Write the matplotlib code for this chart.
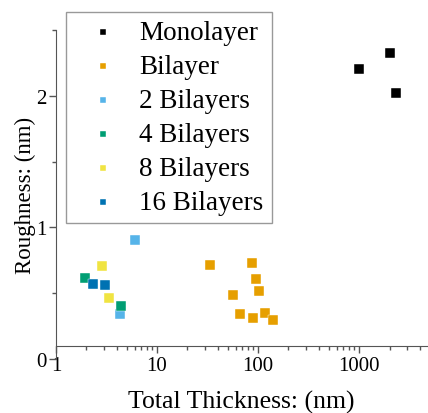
import matplotlib
matplotlib.use('Agg')
import matplotlib.pyplot as plt
from matplotlib.ticker import LogLocator, NullFormatter, MultipleLocator

plt.rcParams['font.family'] = ['Liberation Serif', 'DejaVu Serif']

# thickness (nm) and roughness (nm) for each sample set
mono_x = [1000, 2030, 2320]
mono_y = [2.205, 2.327, 2.02]
bi_x = [33.2, 87.9, 94.9, 101.6, 56.9, 66.8, 89.8, 117.3, 141.7]
bi_y = [0.713, 0.728, 0.606, 0.519, 0.489, 0.340, 0.314, 0.352, 0.294]
bi2_x = [6.10, 4.27]
bi2_y = [0.903, 0.340]
bi4_x = [1.94, 4.37]
bi4_y = [0.618, 0.405]
bi8_x = [2.83, 3.35]
bi8_y = [0.705, 0.464]
bi16_x = [2.34, 3.06]
bi16_y = [0.573, 0.563]

labels = ['Monolayer', 'Bilayer', '2 Bilayers', '4 Bilayers', '8 Bilayers', '16 Bilayers']
colors = ['#000000', '#E69F00', '#56B4E9', '#009E73', '#F0E442', '#0072B2']
xs = [mono_x, bi_x, bi2_x, bi4_x, bi8_x, bi16_x]
ys = [mono_y, bi_y, bi2_y, bi4_y, bi8_y, bi16_y]

fig = plt.figure(figsize=(4.28, 4.14), dpi=100)
ax = fig.add_axes([56/428, 54/414, 371/428, 329/414])

for x, y, c, lab in zip(xs, ys, colors, labels):
    ax.scatter(x, y, marker='s', s=46, color=c, edgecolors='white', linewidths=0.3, label=lab, zorder=3)

ax.set_xscale('log')
ax.set_xlim(1, 4700)
ax.set_ylim(0, 2.5)

spine_col = '#555555'
ax.spines['top'].set_visible(False)
ax.spines['right'].set_visible(False)
ax.spines['left'].set_color(spine_col)
ax.spines['bottom'].set_color(spine_col)
ax.spines['bottom'].set_position(('data', 0.1))

ax.xaxis.set_minor_locator(LogLocator(base=10, subs=range(2, 10), numticks=20))
ax.xaxis.set_minor_formatter(NullFormatter())
ax.set_xticks([1, 10, 100, 1000])
ax.set_xticklabels(['1', '10', '100', '1000'])
ax.yaxis.set_major_locator(MultipleLocator(1))
ax.yaxis.set_minor_locator(MultipleLocator(0.5))

ax.tick_params(which='major', direction='out', length=5, width=1, color=spine_col, labelsize=15, pad=2)
ax.tick_params(which='minor', direction='out', length=3, width=1, color=spine_col)

ax.set_xlabel('Total Thickness: (nm)', fontsize=18.5, labelpad=11)
ax.set_ylabel('Roughness: (nm)', fontsize=16.5, labelpad=0)

leg = ax.legend(loc='upper left', bbox_to_anchor=(10/371, 1 + 18/329), fontsize=19.5,
                markerscale=0.65, handlelength=2.1, handletextpad=0.3, borderpad=0.3,
                labelspacing=0.33, borderaxespad=0, fancybox=False, framealpha=1,
                edgecolor='#999999')
leg.get_frame().set_linewidth(1)

fig.savefig('out.png', dpi=100)
